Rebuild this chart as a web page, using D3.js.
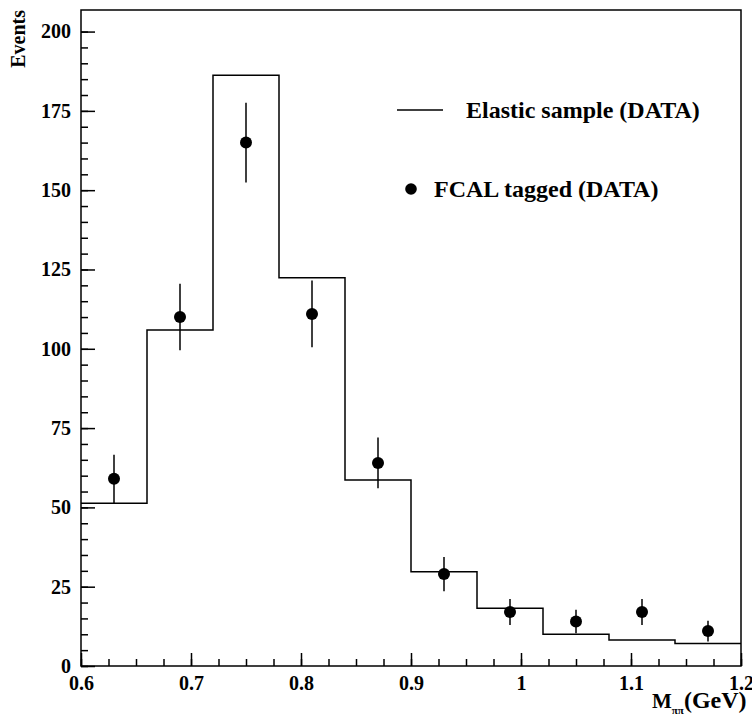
<!DOCTYPE html>
<html>
<head>
<meta charset="utf-8">
<script src="https://cdn.jsdelivr.net/npm/d3@7"></script>
<style>
  body { margin: 0; background: #fff; }
  svg { display: block; font-family: 'Liberation Serif', 'Times New Roman', serif; font-weight: bold; }
  .axis text { font-family: 'Liberation Serif', 'Times New Roman', serif; font-size: 20px; font-weight: bold; fill: #000; }
  .axis line { stroke: #000; stroke-width: 1.5; }
</style>
</head>
<body>
<svg id="chart"></svg>
<script>
// bin edges of the elastic histogram (GeV)
const binEdges = [0.6, 0.66, 0.72, 0.78, 0.84, 0.9, 0.96, 1.02, 1.08, 1.14, 1.2];
// elastic sample, events per bin
const elasticCounts = [51.3, 105.9, 186.2, 122.4, 58.6, 29.7, 18.2, 10.0, 8.2, 7.1];
// FCAL tagged points
const fcalMass = [0.63, 0.69, 0.75, 0.81, 0.87, 0.93, 0.99, 1.05, 1.11, 1.17];
const fcalCounts = [59, 110, 165, 111, 64, 29, 17, 14, 17, 11];
const fcalErrors = [7.6, 10.5, 12.6, 10.5, 8.0, 5.4, 4.1, 3.7, 4.1, 3.3];
// tick labels
const xTickLabels = [0.6, 0.7, 0.8, 0.9, 1.0, 1.1, 1.2];
const yTickLabels = [0, 25, 50, 75, 100, 125, 150, 175, 200];
const legendLabels = ['Elastic sample (DATA)', 'FCAL tagged (DATA)'];

class MassChart {

    constructor(_config) {
        this.config = {
            parentElement: _config.parentElement,
            containerWidth: 752,
            containerHeight: 719,
            margin: {
                top: 10,
                right: 11,
                bottom: 53,
                left: 81
            },
            yMax: 206.8
        }
        this.initVis();
    }

    initVis() {
        let vis = this;
        vis.width = vis.config.containerWidth - vis.config.margin.left - vis.config.margin.right;
        vis.height = vis.config.containerHeight - vis.config.margin.top - vis.config.margin.bottom;

        vis.xScale = d3.scaleLinear()
            .domain([0.6, 1.2])
            .range([0, vis.width]);

        vis.yScale = d3.scaleLinear()
            .domain([0, vis.config.yMax])
            .range([vis.height, 0]);

        vis.svg = d3.select(vis.config.parentElement)
            .attr('width', vis.config.containerWidth)
            .attr('height', vis.config.containerHeight);

        vis.chart = vis.svg.append('g')
            .attr('transform', `translate(${vis.config.margin.left},${vis.config.margin.top})`);

        // minor ticks (inward)
        vis.chart.append('g')
            .attr('class', 'axis')
            .call(d3.axisLeft(vis.yScale).tickValues(d3.range(0, 205, 5)).tickSizeInner(-7).tickSizeOuter(0).tickFormat(''))
            .call(g => g.select('.domain').remove());

        vis.chart.append('g')
            .attr('class', 'axis')
            .attr('transform', `translate(0,${vis.height})`)
            .call(d3.axisBottom(vis.xScale).tickValues(d3.range(0, 25).map(i => 0.6 + i * 0.025)).tickSizeInner(-7).tickSizeOuter(0).tickFormat(''))
            .call(g => g.select('.domain').remove());

        // major ticks with labels
        vis.chart.append('g')
            .attr('class', 'axis y-axis')
            .call(d3.axisLeft(vis.yScale).tickValues(yTickLabels).tickSizeInner(-14).tickSizeOuter(0).tickPadding(10).tickFormat(d => d))
            .call(g => g.select('.domain').remove());

        vis.chart.append('g')
            .attr('class', 'axis x-axis')
            .attr('transform', `translate(0,${vis.height})`)
            .call(d3.axisBottom(vis.xScale).tickValues(xTickLabels).tickSizeInner(-13).tickSizeOuter(0).tickPadding(10).tickFormat(d => d3.format('~g')(d)))
            .call(g => g.select('.domain').remove());

        // frame
        vis.chart.append('rect')
            .attr('width', vis.width)
            .attr('height', vis.height)
            .attr('fill', 'none')
            .attr('stroke', '#000')
            .attr('stroke-width', 1.5);

        // axis titles
        vis.svg.append('text')
            .attr('transform', `translate(25,${vis.config.margin.top}) rotate(-90)`)
            .attr('text-anchor', 'end')
            .attr('font-size', 20)
            .text('Events');

        const xTitle = vis.svg.append('text')
            .attr('x', 652)
            .attr('y', 708)
            .attr('font-size', 21);
        xTitle.append('tspan').text('M');
        xTitle.append('tspan').attr('font-size', 11).attr('dy', 6).text('ππ');
        xTitle.append('tspan').attr('dy', -6).attr('font-size', 24).text('(GeV)');

        vis.renderVis();
    }

    renderVis() {
        let vis = this;

        // histogram as a step outline
        const steps = [];
        elasticCounts.forEach((c, i) => {
            steps.push([binEdges[i], c]);
            steps.push([binEdges[i + 1], c]);
        });
        const line = d3.line()
            .x(d => vis.xScale(d[0]))
            .y(d => vis.yScale(d[1]));

        vis.chart.append('path')
            .datum(steps)
            .attr('d', line)
            .attr('fill', 'none')
            .attr('stroke', '#000')
            .attr('stroke-width', 1.5);

        const points = fcalMass.map((m, i) => ({ m: m, n: fcalCounts[i], e: fcalErrors[i] }));

        vis.chart.selectAll('.err')
            .data(points)
            .join('line')
            .attr('class', 'err')
            .attr('x1', d => vis.xScale(d.m))
            .attr('x2', d => vis.xScale(d.m))
            .attr('y1', d => vis.yScale(d.n - d.e))
            .attr('y2', d => vis.yScale(d.n + d.e))
            .attr('stroke', '#000')
            .attr('stroke-width', 1.5);

        vis.chart.selectAll('.pt')
            .data(points)
            .join('circle')
            .attr('class', 'pt')
            .attr('cx', d => vis.xScale(d.m))
            .attr('cy', d => vis.yScale(d.n))
            .attr('r', 6)
            .attr('fill', '#000');

        // legend
        const legend = vis.svg.append('g');
        legend.append('line')
            .attr('x1', 397).attr('x2', 443)
            .attr('y1', 110).attr('y2', 110)
            .attr('stroke', '#000')
            .attr('stroke-width', 1.5);
        legend.append('text')
            .attr('x', 466).attr('y', 118)
            .attr('font-size', 24)
            .text(legendLabels[0]);
        legend.append('circle')
            .attr('cx', 411).attr('cy', 189)
            .attr('r', 5.8)
            .attr('fill', '#000');
        legend.append('text')
            .attr('x', 434).attr('y', 197)
            .attr('font-size', 24)
            .text(legendLabels[1]);
    }
}

new MassChart({ parentElement: '#chart' });
</script>
</body>
</html>
